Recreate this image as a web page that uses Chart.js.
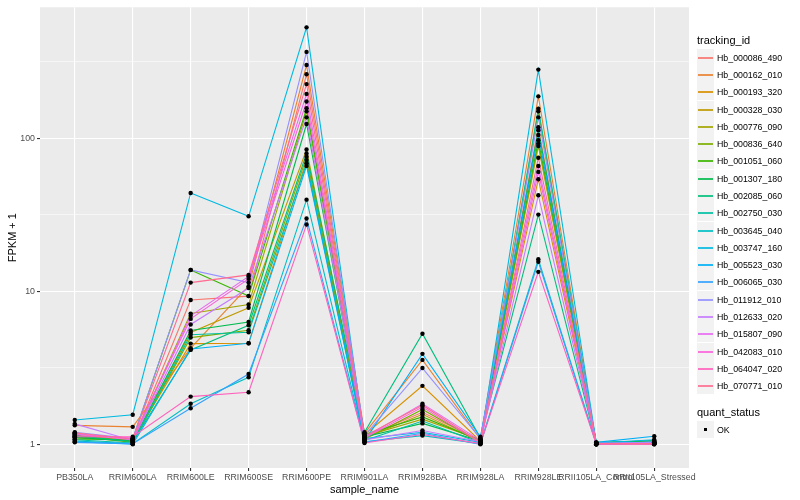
<!DOCTYPE html>
<html>
<head>
<meta charset="utf-8">
<script src="https://cdn.jsdelivr.net/npm/chart.js@4.4.1/dist/chart.umd.min.js"></script>
<style>
    html, body { margin: 0; padding: 0; background: #ffffff; }
    #wrap { position: relative; width: 800px; height: 500px; font-family: "Liberation Sans", Arial, sans-serif; }
    #chart { position: absolute; left: 0; top: 0; }
    .legTitle { position: absolute; left: 697px; font-size: 11px; color: #000; line-height: 12px; }
    .legKey { position: absolute; left: 697px; width: 17px; height: 17px; background: #f2f2f2; }
    .legKey span { position: absolute; left: 1px; right: 1px; top: 7.5px; height: 2px; opacity: 0.85; }
    .legLabel { position: absolute; left: 717px; font-size: 8.8px; color: #000; line-height: 10px; }
    .dot { position: absolute; left: 7px; top: 7px; width: 3px; height: 3px; background: #000; }
</style>
</head>
<body>
<div id="wrap">
    <canvas id="chart" width="800" height="500"></canvas>
    <div id="legend"></div>
</div>
<script>
// categories
const sampleNames = ["PB350LA", "RRIM600LA", "RRIM600LE", "RRIM600SE", "RRIM600PE", "RRIM901LA",
    "RRIM928BA", "RRIM928LA", "RRIM928LE", "RRII105LA_Control", "RRII105LA_Stressed"];

const trackingIds = ["Hb_000086_490", "Hb_000162_010", "Hb_000193_320", "Hb_000328_030", "Hb_000776_090",
    "Hb_000836_640", "Hb_001051_060", "Hb_001307_180", "Hb_002085_060", "Hb_002750_030",
    "Hb_003645_040", "Hb_003747_160", "Hb_005523_030", "Hb_006065_030", "Hb_011912_010",
    "Hb_012633_020", "Hb_015807_090", "Hb_042083_010", "Hb_064047_020", "Hb_070771_010"];

const seriesColors = ["#F8766D", "#EA8331", "#D89000", "#C09B00", "#A3A500", "#7CAE00", "#39B600",
    "#00BB4E", "#00BF7D", "#00C1A3", "#00BFC4", "#00BAE0", "#00B0F6", "#35A2FF", "#9590FF",
    "#C77CFF", "#E76BF3", "#FA62DB", "#FF62BC", "#FF6C91"];

// FPKM + 1, one array per tracking_id, in sampleNames order
const hb_000086_490 = [1.15, 1.05, 8.77, 9.3, 262, 1.12, 1.62, 1.06, 118, 1.01, 1.02];
const hb_000162_010 = [1.33, 1.30, 4.25, 10.8, 301, 1.18, 3.56, 1.08, 188, 1.02, 1.03];
const hb_000193_320 = [1.12, 1.07, 4.55, 4.57, 72, 1.15, 2.41, 1.05, 54, 1.01, 1.02];
const hb_000328_030 = [1.18, 1.04, 5.38, 7.8, 84.5, 1.10, 1.57, 1.04, 92.5, 1.00, 1.01];
const hb_000776_090 = [1.10, 1.06, 7.15, 8.2, 150, 1.13, 1.46, 1.07, 89, 1.02, 1.04];
const hb_000836_640 = [1.13, 1.03, 4.98, 5.57, 75.7, 1.08, 1.69, 1.03, 150, 1.01, 1.02];
const hb_001051_060 = [1.08, 1.08, 13.8, 9.3, 157, 1.16, 1.51, 1.06, 97, 1.03, 1.05];
const hb_001307_180 = [1.11, 1.05, 5.55, 6.3, 124, 1.12, 1.37, 1.05, 113, 1.02, 1.06];
const hb_002085_060 = [1.14, 1.04, 4.14, 6.0, 79.6, 1.20, 5.28, 1.10, 31.7, 1.01, 1.03];
const hb_002750_030 = [1.07, 1.02, 5.2, 5.4, 68.6, 1.06, 1.42, 1.02, 156, 1.00, 1.02];
const hb_003645_040 = [1.05, 1.01, 1.84, 2.74, 39.7, 1.04, 1.14, 1.01, 16.2, 1.01, 1.01];
const hb_003747_160 = [1.44, 1.56, 43.9, 30.9, 531, 1.09, 1.20, 1.03, 281, 1.02, 1.07];
const hb_005523_030 = [1.04, 1.00, 4.2, 4.57, 66, 1.05, 3.9, 1.12, 105, 1.03, 1.13];
const hb_006065_030 = [1.03, 1.01, 1.72, 2.88, 29.9, 1.03, 1.18, 1.00, 15.6, 1.00, 1.04];
const hb_011912_010 = [1.20, 1.09, 13.8, 11.4, 367, 1.14, 3.15, 1.09, 137, 1.02, 1.03];
const hb_012633_020 = [1.36, 1.06, 6.07, 10.5, 137, 1.07, 1.23, 1.04, 42.4, 1.01, 1.02];
const hb_015807_090 = [1.17, 1.07, 6.91, 12.5, 195, 1.11, 1.84, 1.06, 65.9, 1.00, 1.01];
const hb_042083_010 = [1.16, 1.10, 6.6, 12.05, 174, 1.10, 1.75, 1.02, 60.3, 1.01, 1.00];
const hb_064047_020 = [1.12, 1.12, 2.05, 2.19, 27.3, 1.02, 1.16, 1.01, 13.4, 1.00, 1.00];
const hb_070771_010 = [1.19, 1.08, 11.4, 12.8, 226, 1.13, 1.80, 1.03, 74.6, 1.01, 1.01];

const seriesValues = [hb_000086_490, hb_000162_010, hb_000193_320, hb_000328_030, hb_000776_090,
    hb_000836_640, hb_001051_060, hb_001307_180, hb_002085_060, hb_002750_030,
    hb_003645_040, hb_003747_160, hb_005523_030, hb_006065_030, hb_011912_010,
    hb_012633_020, hb_015807_090, hb_042083_010, hb_064047_020, hb_070771_010];

// y ticks: labelled majors and unlabelled minors (log midpoints)
const yMajorTicks = [1, 10, 100];
const yMinorTicks = [3.1623, 31.623, 316.23];
const quantStatus = ["OK"];

document.addEventListener("DOMContentLoaded", () => {
    const toPoints = vals => vals.map((v, i) => ({ x: i, y: v }));

    const lineSets = seriesValues.map((vals, i) => ({
        label: trackingIds[i],
        data: toPoints(vals),
        borderColor: seriesColors[i],
        borderWidth: 1.1,
        pointRadius: 0,
        fill: false,
        tension: 0,
        order: 100 - i
    }));

    // points go on top of every line, like geom_point after geom_line
    const pointSets = seriesValues.map((vals, i) => ({
        label: trackingIds[i] + " " + quantStatus[0],
        data: toPoints(vals),
        showLine: false,
        pointRadius: 2.2,
        pointStyle: "circle",
        pointBackgroundColor: "#000000",
        pointBorderWidth: 0,
        order: 0
    }));

    const panelBg = {
        id: "panelBg",
        beforeDraw(chart) {
            const { ctx, chartArea: a } = chart;
            ctx.save();
            ctx.fillStyle = "#EBEBEB";
            ctx.fillRect(a.left, a.top, a.right - a.left, a.bottom - a.top);
            ctx.restore();
        }
    };

    const isMajor = v => yMajorTicks.some(m => Math.abs(m - v) < 1e-6);

    new Chart(document.getElementById("chart").getContext("2d"), {
        type: "line",
        data: { datasets: [...lineSets, ...pointSets] },
        plugins: [panelBg],
        options: {
            responsive: false,
            animation: false,
            events: [],
            layout: { padding: { left: 0, top: 5, right: 111, bottom: 0 } },
            plugins: { legend: { display: false }, tooltip: { enabled: false } },
            scales: {
                x: {
                    type: "linear",
                    min: -0.6,
                    max: sampleNames.length - 1 + 0.6,
                    afterBuildTicks: axis => { axis.ticks = sampleNames.map((_, i) => ({ value: i })); },
                    afterFit: axis => { axis.height = 32; },
                    border: { display: false },
                    grid: { color: "#ffffff", lineWidth: 1.1, tickColor: "#333333", tickLength: 3 },
                    ticks: {
                        autoSkip: false, maxRotation: 0, minRotation: 0, padding: 1,
                        color: "#4D4D4D", font: { family: "Liberation Sans", size: 8.8 },
                        callback: v => sampleNames[v]
                    },
                    title: { display: true, text: "sample_name", color: "#000", padding: { top: 0, bottom: 3 },
                        font: { family: "Liberation Sans", size: 11 } }
                },
                y: {
                    type: "logarithmic",
                    min: 0.731,
                    max: 718,
                    afterBuildTicks: axis => {
                        axis.ticks = [...yMajorTicks, ...yMinorTicks].sort((a, b) => a - b).map(v => ({ value: v }));
                    },
                    afterFit: axis => { axis.width = 40; },
                    border: { display: false },
                    grid: {
                        color: "#ffffff",
                        lineWidth: c => (c.tick && isMajor(c.tick.value)) ? 1.1 : 0.55,
                        tickColor: c => (c.tick && isMajor(c.tick.value)) ? "#333333" : "rgba(0,0,0,0)",
                        tickLength: 3
                    },
                    ticks: {
                        padding: 2, color: "#4D4D4D", font: { family: "Liberation Sans", size: 8.8 },
                        callback: v => isMajor(v) ? String(v) : ""
                    },
                    title: { display: true, text: "FPKM + 1", color: "#000", padding: { top: 6, bottom: 0 },
                        font: { family: "Liberation Sans", size: 11 } }
                }
            }
        }
    });

    // ggplot style legend beside the panel
    const legend = document.getElementById("legend");
    let html = `<div class="legTitle" style="top:34px">tracking_id</div>`;
    trackingIds.forEach((id, i) => {
        const top = Math.round(57.3 + 17.28 * i - 8.5);
        html += `<div class="legKey" style="top:${top}px"><span style="background:${seriesColors[i]}"></span></div>`;
        html += `<div class="legLabel" style="top:${top + 3.5}px">${id}</div>`;
    });
    html += `<div class="legTitle" style="top:406px">quant_status</div>`;
    quantStatus.forEach((q, i) => {
        const top = Math.round(429.3 + 17.28 * i - 8.5);
        html += `<div class="legKey" style="top:${top}px"><div class="dot"></div></div>`;
        html += `<div class="legLabel" style="top:${top + 3.5}px">${q}</div>`;
    });
    legend.innerHTML = html;
});
</script>
</body>
</html>
